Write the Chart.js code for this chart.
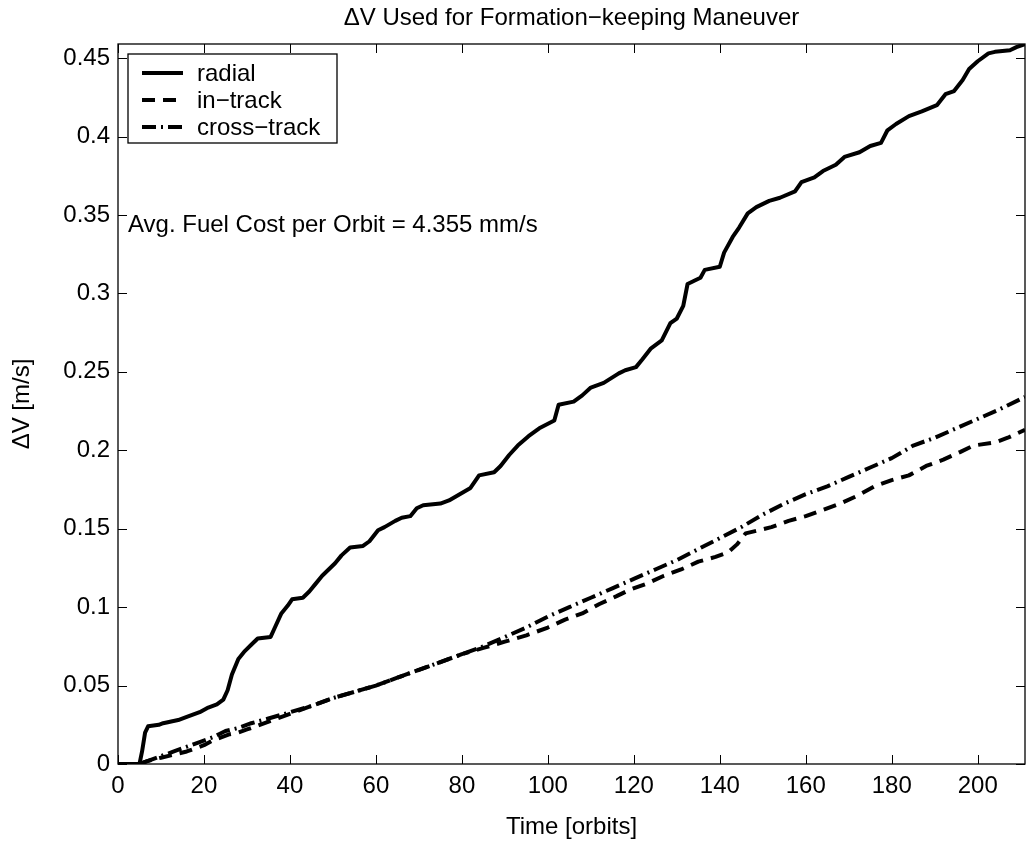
<!DOCTYPE html>
<html>
<head>
<meta charset="utf-8">
<script src="https://cdn.jsdelivr.net/npm/chart.js@4/dist/chart.umd.min.js"></script>
<style>
  html, body { margin: 0; padding: 0; background: #fff; }
  canvas { display: block; }
</style>
</head>
<body>
<canvas id="c" width="1026" height="841"></canvas>
<script>
// ---- Data ----
const titleText = "\u0394V Used for Formation\u2212keeping Maneuver";
const xLabelText = "Time [orbits]";
const yLabelText = "\u0394V [m/s]";
const annotationText = "Avg. Fuel Cost per Orbit = 4.355 mm/s";
const seriesNames = ["radial", "in\u2212track", "cross\u2212track"];

const xTicks = [0, 20, 40, 60, 80, 100, 120, 140, 160, 180, 200];
const xTickLabels = ["0", "20", "40", "60", "80", "100", "120", "140", "160", "180", "200"];
const yTicks = [0, 0.05, 0.1, 0.15, 0.2, 0.25, 0.3, 0.35, 0.4, 0.45];
const yTickLabels = ["0", "0.05", "0.1", "0.15", "0.2", "0.25", "0.3", "0.35", "0.4", "0.45"];
const xMin = 0, xMax = 211;
const yMin = 0, yMax = 0.459;

// [orbit, deltaV m/s]
const radial = [
  [0,0],[5.0,0],[5.6,0.008],[6.3,0.02],[7,0.024],[9.5,0.025],[10.5,0.026],[14,0.028],[16,0.030],
  [19,0.033],[21,0.036],[23,0.038],[24.5,0.041],[25.5,0.047],[26.5,0.057],[28,0.067],[29.5,0.072],
  [31,0.076],[32.5,0.080],[35.5,0.081],[36.5,0.087],[38,0.096],[39.5,0.101],[40.5,0.105],[43,0.106],
  [44.5,0.110],[46,0.115],[47.5,0.120],[49,0.124],[50.5,0.128],[52,0.133],[54,0.138],[57,0.139],
  [58.5,0.142],[60.5,0.149],[62,0.151],[64.5,0.155],[66,0.157],[68,0.158],[69.5,0.163],[71,0.165],
  [75,0.166],[77,0.168],[79.5,0.172],[82,0.176],[84,0.184],[87.5,0.186],[89,0.190],[91,0.197],
  [93,0.203],[95.5,0.209],[98,0.214],[101.5,0.219],[102.5,0.229],[106,0.231],[108,0.235],[110,0.240],
  [113,0.243],[116.5,0.249],[118,0.251],[120.5,0.253],[122,0.258],[124,0.265],[126.5,0.270],
  [128.5,0.281],[130,0.284],[131.5,0.292],[132.5,0.306],[135.5,0.310],[136.5,0.315],[140,0.317],
  [141,0.326],[143,0.336],[144.5,0.342],[146.5,0.351],[148.5,0.355],[151.5,0.359],[154,0.361],
  [157.5,0.365],[159,0.371],[162,0.374],[164,0.378],[167,0.382],[169,0.387],[172.5,0.390],
  [175,0.394],[177.5,0.396],[179,0.404],[181,0.408],[184,0.413],[187,0.416],[190.5,0.420],
  [192.5,0.427],[194.5,0.429],[196.5,0.436],[198,0.443],[200,0.448],[202.5,0.453],[204,0.454],
  [207.5,0.455],[209,0.457],[211,0.459]
];
const inTrack = [
  [0,0],[4.8,0],[7,0.002],[10,0.004],[13,0.006],[16,0.008],[18,0.010],[20,0.012],[22,0.015],
  [24,0.017],[26,0.019],[28,0.020],[30,0.022],[33,0.025],[36,0.028],[40,0.032],[45,0.037],
  [50,0.042],[55,0.046],[60,0.050],[65,0.055],[70,0.060],[75,0.065],[80,0.070],[85,0.074],
  [90,0.078],[95,0.082],[100,0.087],[104,0.092],[108,0.096],[112,0.102],[116,0.107],[119,0.111],
  [123,0.115],[127,0.120],[131,0.124],[135,0.129],[139,0.132],[142,0.135],[144,0.140],[146,0.147],
  [149,0.149],[152,0.151],[156,0.155],[160,0.158],[164,0.162],[168,0.166],[172,0.171],[176,0.177],
  [180,0.181],[184,0.184],[188,0.190],[192,0.194],[196,0.199],[199,0.203],[204,0.205],[207,0.208],
  [211,0.213]
];
const crossTrack = [
  [0,0],[4.8,0],[7,0.002],[10,0.005],[13,0.008],[16,0.011],[19,0.014],[22,0.017],[25,0.021],
  [28,0.023],[31,0.026],[35,0.029],[40,0.033],[45,0.037],[50,0.042],[55,0.046],[60,0.050],
  [65,0.055],[70,0.060],[75,0.065],[80,0.070],[85,0.075],[90,0.081],[95,0.087],[100,0.094],
  [105,0.100],[110,0.106],[115,0.112],[120,0.118],[125,0.124],[130,0.130],[135,0.137],[140,0.144],
  [145,0.151],[150,0.159],[155,0.166],[160,0.172],[165,0.177],[170,0.183],[175,0.189],[180,0.195],
  [185,0.203],[190,0.208],[195,0.214],[200,0.220],[205,0.226],[211,0.234]
];

// ---- Styles ----
const FONT = "'Liberation Sans', Arial, Helvetica, sans-serif";
const lineW = 4;
const dashes = [[], [13, 8], [14, 5, 2, 5]];

const toXY = arr => arr.map(p => ({ x: p[0], y: p[1] }));

Chart.defaults.font.family = FONT;
Chart.defaults.font.size = 24;
Chart.defaults.color = '#000';

const frame = {
  id: 'frame',
  afterDatasetsDraw(chart) {
    const ctx = chart.ctx;
    const a = chart.chartArea;
    const xs = chart.scales.x, ys = chart.scales.y;
    ctx.save();
    // box
    ctx.strokeStyle = '#000';
    ctx.lineWidth = 1.3;
    ctx.strokeRect(a.left, a.top, a.right - a.left, a.bottom - a.top);
    // inward ticks
    ctx.lineWidth = 1;
    const tl = 9;
    ctx.beginPath();
    xTicks.forEach(v => {
      const px = Math.round(xs.getPixelForValue(v)) + 0.5;
      ctx.moveTo(px, a.bottom); ctx.lineTo(px, a.bottom - tl);
      ctx.moveTo(px, a.top); ctx.lineTo(px, a.top + tl);
    });
    yTicks.forEach(v => {
      const py = Math.round(ys.getPixelForValue(v)) + 0.5;
      ctx.moveTo(a.left, py); ctx.lineTo(a.left + tl, py);
      ctx.moveTo(a.right, py); ctx.lineTo(a.right - tl, py);
    });
    ctx.stroke();

    // title & axis labels
    ctx.fillStyle = '#000';
    ctx.font = '24px ' + FONT;
    ctx.textAlign = 'center';
    ctx.textBaseline = 'alphabetic';
    const cx = (a.left + a.right) / 2;
    ctx.fillText(titleText, cx, 25);
    ctx.fillText(xLabelText, cx, 834);
    ctx.save();
    ctx.translate(22, (a.top + a.bottom) / 2);
    ctx.rotate(-Math.PI / 2);
    ctx.textBaseline = 'middle';
    ctx.fillText(yLabelText, 0, 0);
    ctx.restore();

    // annotation
    ctx.textAlign = 'left';
    ctx.textBaseline = 'alphabetic';
    ctx.fillText(annotationText, 128, 232);

    // legend
    const lx = 128, ly = 54, lw = 209, lh = 89;
    ctx.fillStyle = '#fff';
    ctx.fillRect(lx, ly, lw, lh);
    ctx.strokeStyle = '#000';
    ctx.lineWidth = 1.3;
    ctx.strokeRect(lx, ly, lw, lh);
    const rows = [73, 100, 127];
    seriesNames.forEach((name, i) => {
      ctx.beginPath();
      ctx.setLineDash(dashes[i]);
      ctx.lineWidth = lineW;
      ctx.lineCap = 'butt';
      ctx.moveTo(142, rows[i]); ctx.lineTo(183, rows[i]);
      ctx.stroke();
      ctx.setLineDash([]);
      ctx.fillStyle = '#000';
      ctx.textBaseline = 'middle';
      ctx.fillText(name, 197, rows[i] + 1);
    });
    ctx.restore();
  }
};

new Chart(document.getElementById('c'), {
  type: 'line',
  data: {
    datasets: [
      { label: seriesNames[0], data: toXY(radial), borderColor: '#000', borderWidth: lineW, borderDash: dashes[0] },
      { label: seriesNames[1], data: toXY(inTrack), borderColor: '#000', borderWidth: lineW, borderDash: dashes[1] },
      { label: seriesNames[2], data: toXY(crossTrack), borderColor: '#000', borderWidth: lineW, borderDash: dashes[2] }
    ]
  },
  options: {
    responsive: false,
    animation: false,
    events: [],
    layout: { padding: { left: 0, right: 1, top: 44, bottom: 0 } },
    elements: {
      point: { radius: 0 },
      line: { tension: 0, fill: false, borderCapStyle: 'butt', borderJoinStyle: 'round' }
    },
    plugins: { legend: { display: false }, title: { display: false }, tooltip: { enabled: false } },
    scales: {
      x: {
        type: 'linear', min: xMin, max: xMax,
        grid: { display: false, drawTicks: false },
        border: { display: false },
        afterBuildTicks: s => { s.ticks = xTicks.map(v => ({ value: v })); },
        afterFit: s => { s.height = 77; },
        ticks: { padding: 8, maxRotation: 0, autoSkip: false, font: { size: 24 },
                 callback: (v, i) => xTickLabels[i] }
      },
      y: {
        type: 'linear', min: yMin, max: yMax,
        grid: { display: false, drawTicks: false },
        border: { display: false },
        afterBuildTicks: s => { s.ticks = yTicks.map(v => ({ value: v })); },
        afterFit: s => { s.width = 118; },
        ticks: { padding: 8, autoSkip: false, font: { size: 24 },
                 callback: (v, i) => yTickLabels[i] }
      }
    }
  },
  plugins: [frame]
});
</script>
</body>
</html>
